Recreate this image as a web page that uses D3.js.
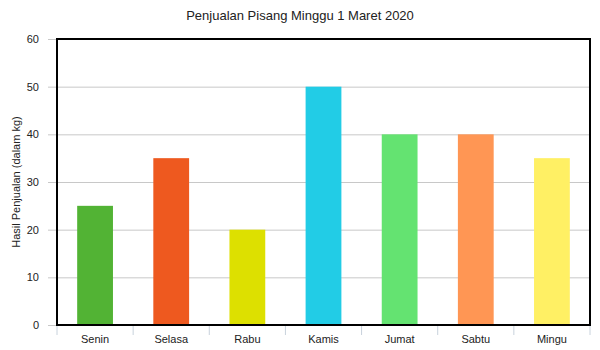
<!DOCTYPE html>
<meta charset="utf-8">
<style>

body {
  margin: 0;
  background: #fff;
}

text {
  font-family: "Liberation Sans", Arial, sans-serif;
  fill: #222;
}

</style>
<body>
<script src="https://d3js.org/d3.v7.min.js"></script>
<script>

var days = ["Senin", "Selasa", "Rabu", "Kamis", "Jumat", "Sabtu", "Mingu"],
    sales = [25, 35, 20, 50, 40, 40, 35],
    colors = ["#52b334", "#ee591f", "#dde000", "#22cce6", "#64e371", "#ff9654", "#fff064"],
    yTicks = [0, 10, 20, 30, 40, 50, 60];

var width = 600,
    height = 350,
    margin = {top: 39, right: 10, bottom: 25, left: 57};

var x = d3.scaleBand()
    .domain(days)
    .range([margin.left, width - margin.right])
    .paddingInner(0.53)
    .paddingOuter(0.265);

var band = d3.scaleBand()
    .domain(days)
    .range([margin.left, width - margin.right]);

var y = d3.scaleLinear()
    .domain([0, 60])
    .range([height - margin.bottom, margin.top]);

var svg = d3.select("body").append("svg")
    .attr("width", width)
    .attr("height", height);

svg.append("text")
    .attr("x", width / 2)
    .attr("y", 20)
    .attr("text-anchor", "middle")
    .style("font-size", "13px")
    .text("Penjualan Pisang Minggu 1 Maret 2020");

// grid lines + left ticks
svg.append("g")
    .attr("transform", "translate(" + margin.left + ",0)")
    .call(d3.axisLeft(y)
        .tickValues(yTicks)
        .tickSize(-(width - margin.left - margin.right))
        .tickSizeOuter(0)
        .tickFormat(""))
    .call(function(g) { g.select(".domain").remove(); })
    .call(function(g) { g.selectAll("line").attr("stroke", "#c8c8c8").attr("x1", -9); });

svg.append("g")
    .attr("transform", "translate(" + (margin.left - 15) + ",0)")
    .call(d3.axisLeft(y).tickValues(yTicks).tickSize(0).tickFormat(d3.format("d")))
    .call(function(g) { g.select(".domain").remove(); })
    .call(function(g) { g.selectAll("text").style("font-size", "11px").attr("fill", "#222"); });

// bottom ticks at category boundaries
var edges = days.map(function(d) { return band(d); }).concat([width - margin.right]);
svg.append("g")
  .selectAll("line")
  .data(edges)
  .join("line")
    .attr("x1", function(d) { return d; })
    .attr("x2", function(d) { return d; })
    .attr("y1", y(0))
    .attr("y2", y(0) + 10)
    .attr("stroke", "#c8d2dc");

svg.append("g")
  .selectAll("text")
  .data(days)
  .join("text")
    .attr("x", function(d) { return band(d) + band.bandwidth() / 2; })
    .attr("y", height - 7)
    .attr("text-anchor", "middle")
    .style("font-size", "11px")
    .text(function(d) { return d; });

svg.append("g")
  .selectAll("rect")
  .data(sales)
  .join("rect")
    .attr("x", function(d, i) { return x(days[i]); })
    .attr("y", function(d) { return y(d); })
    .attr("width", x.bandwidth())
    .attr("height", function(d) { return y(0) - y(d); })
    .attr("fill", function(d, i) { return colors[i]; });

// frame
svg.append("rect")
    .attr("x", margin.left)
    .attr("y", margin.top)
    .attr("width", width - margin.left - margin.right)
    .attr("height", height - margin.top - margin.bottom)
    .attr("fill", "none")
    .attr("stroke", "#000")
    .attr("stroke-width", 2);

svg.append("text")
    .attr("transform", "translate(20," + ((margin.top + height - margin.bottom) / 2) + ") rotate(-90)")
    .attr("text-anchor", "middle")
    .style("font-size", "11px")
    .text("Hasil Penjualan (dalam kg)");

</script>
